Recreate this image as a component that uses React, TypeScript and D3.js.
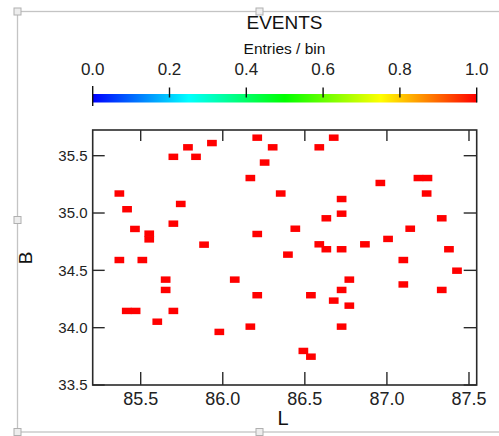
import React from "react";
import * as d3 from "d3";

const W = 499;
const H = 436;

// Event bins (L, B) centers, each with 1 entry per bin
const L_VALUES = [
  85.699, 85.788, 85.837, 85.934, 86.21, 86.304, 86.255, 86.168, 85.37, 86.353,
  85.417, 85.744, 85.465, 85.552, 85.552, 85.699, 85.886, 86.21, 86.397, 85.37,
  85.51, 86.676, 86.588, 86.96, 87.192, 87.247, 87.242, 86.724, 86.724, 86.631,
  87.334, 86.442, 87.142, 87.007, 86.588, 86.631, 86.724, 86.866, 87.378, 87.1,
  87.427, 86.771, 87.1, 86.724, 87.334, 86.537, 86.676, 86.771, 86.724, 86.491,
  86.537, 85.652, 85.652, 85.415, 85.469, 85.699, 85.601, 85.979, 86.168, 86.073,
  86.21,
];
const B_VALUES = [
  35.49, 35.573, 35.49, 35.61, 35.657, 35.573, 35.44, 35.305, 35.17, 35.17,
  35.033, 35.079, 34.861, 34.82, 34.77, 34.907, 34.724, 34.817, 34.637, 34.59,
  34.59, 35.657, 35.573, 35.262, 35.305, 35.305, 35.17, 35.122, 34.994, 34.954,
  34.954, 34.863, 34.863, 34.774, 34.727, 34.684, 34.684, 34.727, 34.684, 34.59,
  34.497, 34.419, 34.377, 34.329, 34.329, 34.283, 34.236, 34.192, 34.009, 33.797,
  33.747, 34.419, 34.329, 34.146, 34.146, 34.146, 34.052, 33.963, 34.009, 34.419,
  34.283,
];
const ENTRIES = L_VALUES.map(() => 1);

const BIN_W = 0.047;
const BIN_H = 0.044;

const X_TICKS = [85.5, 86.0, 86.5, 87.0, 87.5];
const Y_TICKS = [33.5, 34.0, 34.5, 35.0, 35.5];
const CBAR_TICKS = [0, 0.2, 0.4, 0.6, 0.8, 1.0];
const CBAR_STOPS = [0, 0.25, 0.5, 0.75, 1.0];
const CBAR_COLORS = ["#0000ff", "#00ffff", "#00ff00", "#ffff00", "#ff0000"];

const TITLE = "EVENTS";
const CBAR_LABEL = "Entries / bin";
const X_LABEL = "L";
const Y_LABEL = "B";

const FONT = "'Liberation Sans', Arial, Helvetica, sans-serif";

export default function App() {
  const left = 92.7;
  const right = 476.7;
  const top = 130;
  const bottom = 385;

  const x = d3.scaleLinear().domain([85.2076, 87.547]).range([left, right]);
  const y = d3.scaleLinear().domain([33.5, 35.724]).range([bottom, top]);
  const c = d3.scaleLinear<string>().domain(CBAR_STOPS).range(CBAR_COLORS);
  const cb = d3.scaleLinear().domain([0, 1]).range([left, right]);

  const bw = x(BIN_W) - x(0);
  const bh = y(0) - y(BIN_H);
  const padX = 1.0;
  const padY = 0.7;
  const axisColor = "#2a2a2a";
  const tickLen = 13;

  const handles = [
    [17.5, 11.5],
    [259.5, 11.5],
    [17.5, 220],
    [17.5, 432],
    [259.5, 432],
  ];

  return (
    <svg
      width={W}
      height={H}
      style={{ position: "absolute", left: 0, top: 0, background: "#fff" }}
      fontFamily={FONT}
    >
      <defs>
        <linearGradient id="cbar" x1="0" x2="1" y1="0" y2="0">
          {CBAR_STOPS.map((s, i) => (
            <stop key={i} offset={`${s * 100}%`} stopColor={CBAR_COLORS[i]} />
          ))}
        </linearGradient>
      </defs>
      <rect x={0} y={0} width={W} height={H} fill="#fff" />
      {/* outer selection frame */}
      <rect x={17.5} y={11.5} width={520} height={420.5} fill="none" stroke="#c4c4c4" strokeWidth={1.3} />
      {handles.map(([hx, hy], i) => (
        <rect key={i} x={hx - 3.5} y={hy - 3.5} width={7} height={7} fill="#ededed" stroke="#b0b0b0" strokeWidth={1} />
      ))}

      {/* title + colorbar */}
      <text x={284.5} y={29} textAnchor="middle" fontSize={19} fill="#111">{TITLE}</text>
      <text x={284.5} y={54} textAnchor="middle" fontSize={15.5} fill="#111">{CBAR_LABEL}</text>
      {CBAR_TICKS.map((t) => (
        <text key={t} x={cb(t)} y={75} textAnchor="middle" fontSize={17} fill="#222">
          {t.toFixed(1)}
        </text>
      ))}
      <rect x={left} y={94} width={right - left} height={8.5} fill="url(#cbar)" />
      {CBAR_TICKS.map((t, i) => (
        <line
          key={t}
          x1={cb(t)}
          x2={cb(t)}
          y1={i === 0 ? 86 : 87.5}
          y2={i === 0 ? 106 : i === CBAR_TICKS.length - 1 ? 102.5 : 97.5}
          stroke="#111"
          strokeWidth={1.4}
        />
      ))}

      {/* bins */}
      {L_VALUES.map((l, i) => (
        <rect
          key={i}
          x={x(l - BIN_W / 2) - padX}
          y={y(B_VALUES[i] + BIN_H / 2) - padY}
          width={bw + 2 * padX}
          height={bh + 2 * padY}
          fill={c(ENTRIES[i])}
        />
      ))}

      {/* frame */}
      <rect x={left} y={top} width={right - left} height={bottom - top} fill="none" stroke={axisColor} strokeWidth={1.6} />
      {X_TICKS.map((t) => (
        <g key={t}>
          <line x1={x(t)} x2={x(t)} y1={bottom} y2={bottom - tickLen} stroke={axisColor} strokeWidth={1.4} />
          <line x1={x(t)} x2={x(t)} y1={top} y2={top + 11} stroke={axisColor} strokeWidth={1.4} />
          <text x={x(t)} y={405} textAnchor="middle" fontSize={18} fill="#222">
            {t.toFixed(1)}
          </text>
        </g>
      ))}
      {Y_TICKS.map((t) => (
        <g key={t}>
          <line x1={left} x2={left + 12} y1={y(t)} y2={y(t)} stroke={axisColor} strokeWidth={1.4} />
          <line x1={right} x2={right - 13} y1={y(t)} y2={y(t)} stroke={axisColor} strokeWidth={1.4} />
          <text x={87.5} y={y(t)} dy="0.36em" textAnchor="end" fontSize={15} fill="#222">
            {t.toFixed(1)}
          </text>
        </g>
      ))}
      <text x={283} y={425} textAnchor="middle" fontSize={20} fill="#111">{X_LABEL}</text>
      <text transform={`translate(32,258) rotate(-90)`} textAnchor="middle" fontSize={19} fill="#111">
        {Y_LABEL}
      </text>
    </svg>
  );
}
